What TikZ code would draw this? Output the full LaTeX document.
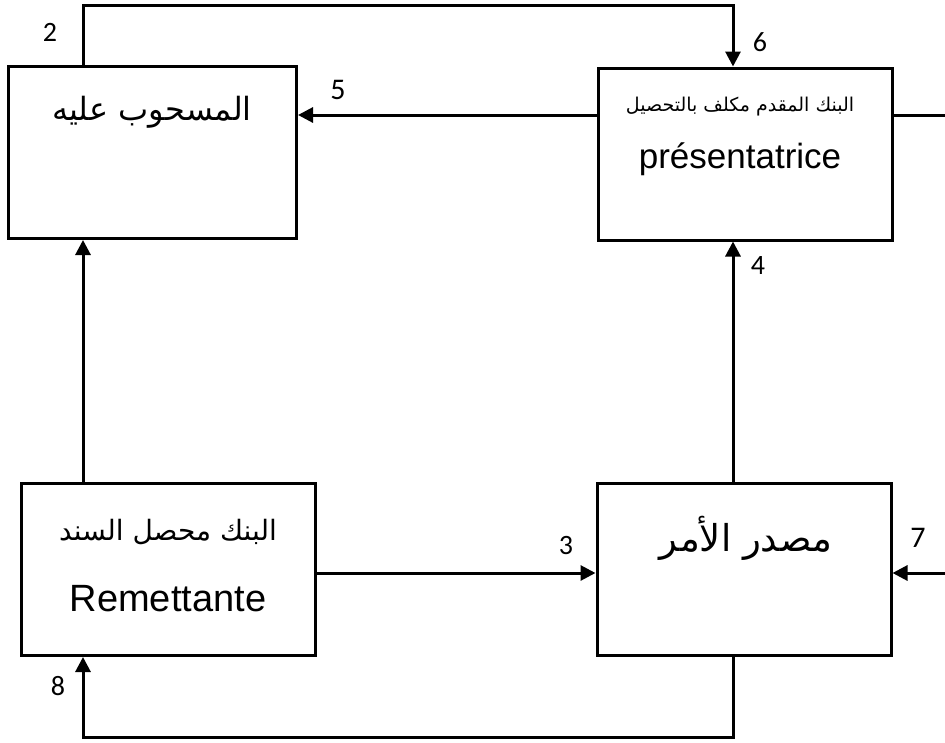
\documentclass[tikz,border=0pt]{standalone}
\usepackage{fontspec}
\setmainfont{Liberation Sans}
\newfontfamily\arabicfont[Script=Arabic]{DejaVu Sans}
\newfontfamily\numfont{Carlito}
\TeXXeTstate=1
\usetikzlibrary{arrows.meta}

\begin{document}
\begin{tikzpicture}[x=1pt,y=-1pt,line width=3pt,
  box/.style={draw,line width=3pt,inner sep=0pt,minimum height=172pt},
  arr/.style={-{Triangle[length=15pt,width=15pt]}},
  num/.style={font=\numfont\fontsize{#1}{#1}\selectfont,inner sep=0pt},
  num/.default=28,
  ar/.style={font=\arabicfont\fontsize{#1}{#1}\selectfont,inner sep=0pt},
  latin/.style={font=\fontsize{#1}{#1}\selectfont,inner sep=0pt}]
  \useasboundingbox (0,0) rectangle (945,742);

  % the four parties
  \node[box,minimum width=288pt] (A) at (152.5,152.5) {};
  \node[box,minimum width=294pt] (B) at (745,154) {};
  \node[box,minimum width=294pt] (C) at (168,569.5) {};
  \node[box,minimum width=294pt] (D) at (744,569.5) {};

  % box texts
  \node[ar=32] (tA) at (152,112) {\beginR المسحوب عليه\endR};
  \node[ar=19] (tB) at (740,107) {\beginR البنك المقدم مكلف بالتحصيل\endR};
  \node[latin=35] (lB) at (740,159) {présentatrice};
  \node[ar=28] (tC) at (168,532) {\beginR البنك محصل السند\endR};
  \node[latin=38] (lC) at (168,599) {Remettante};
  \node[ar=37] (tD) at (746,538) {\beginR مصدر الأمر\endR};

  % helper positions
  \coordinate (xl) at (83,0);
  \coordinate (xr) at (733,0);
  \coordinate (top) at (0,5);
  \coordinate (bot) at (0,737);
  \coordinate (redgeB) at (945,115);
  \coordinate (redgeD) at (945,573);
  \coordinate (yB) at (0,115);
  \coordinate (yD) at (0,573);

  % connectors
  \draw[arr] (A.north -| xl) -- (top -| xl) -- (top -| xr) -- (B.north -| xr);
  \draw[arr] (B.west |- yB) -- (A.east |- yB);
  \draw (B.east |- yB) -- (redgeB);
  \draw[arr] (D.north -| xr) -- (B.south -| xr);
  \draw[arr] (C.north -| xl) -- (A.south -| xl);
  \draw[arr] (C.east |- yD) -- (D.west |- yD);
  \draw[arr] (redgeD) -- (D.east |- yD);
  \draw[arr] (D.south -| xr) -- (bot -| xr) -- (bot -| xl) -- (C.south -| xl);

  % step numbers
  \node[num] (n2) at (50,32) {2};
  \node[num] (n6) at (760,42) {6};
  \node[num=30] (n5) at (338,90) {5};
  \node[num] (n4) at (758,266) {4};
  \node[num] (n3) at (566,546) {3};
  \node[num=30] (n7) at (918,538) {7};
  \node[num] (n8) at (58,686) {8};
\end{tikzpicture}
\end{document}
